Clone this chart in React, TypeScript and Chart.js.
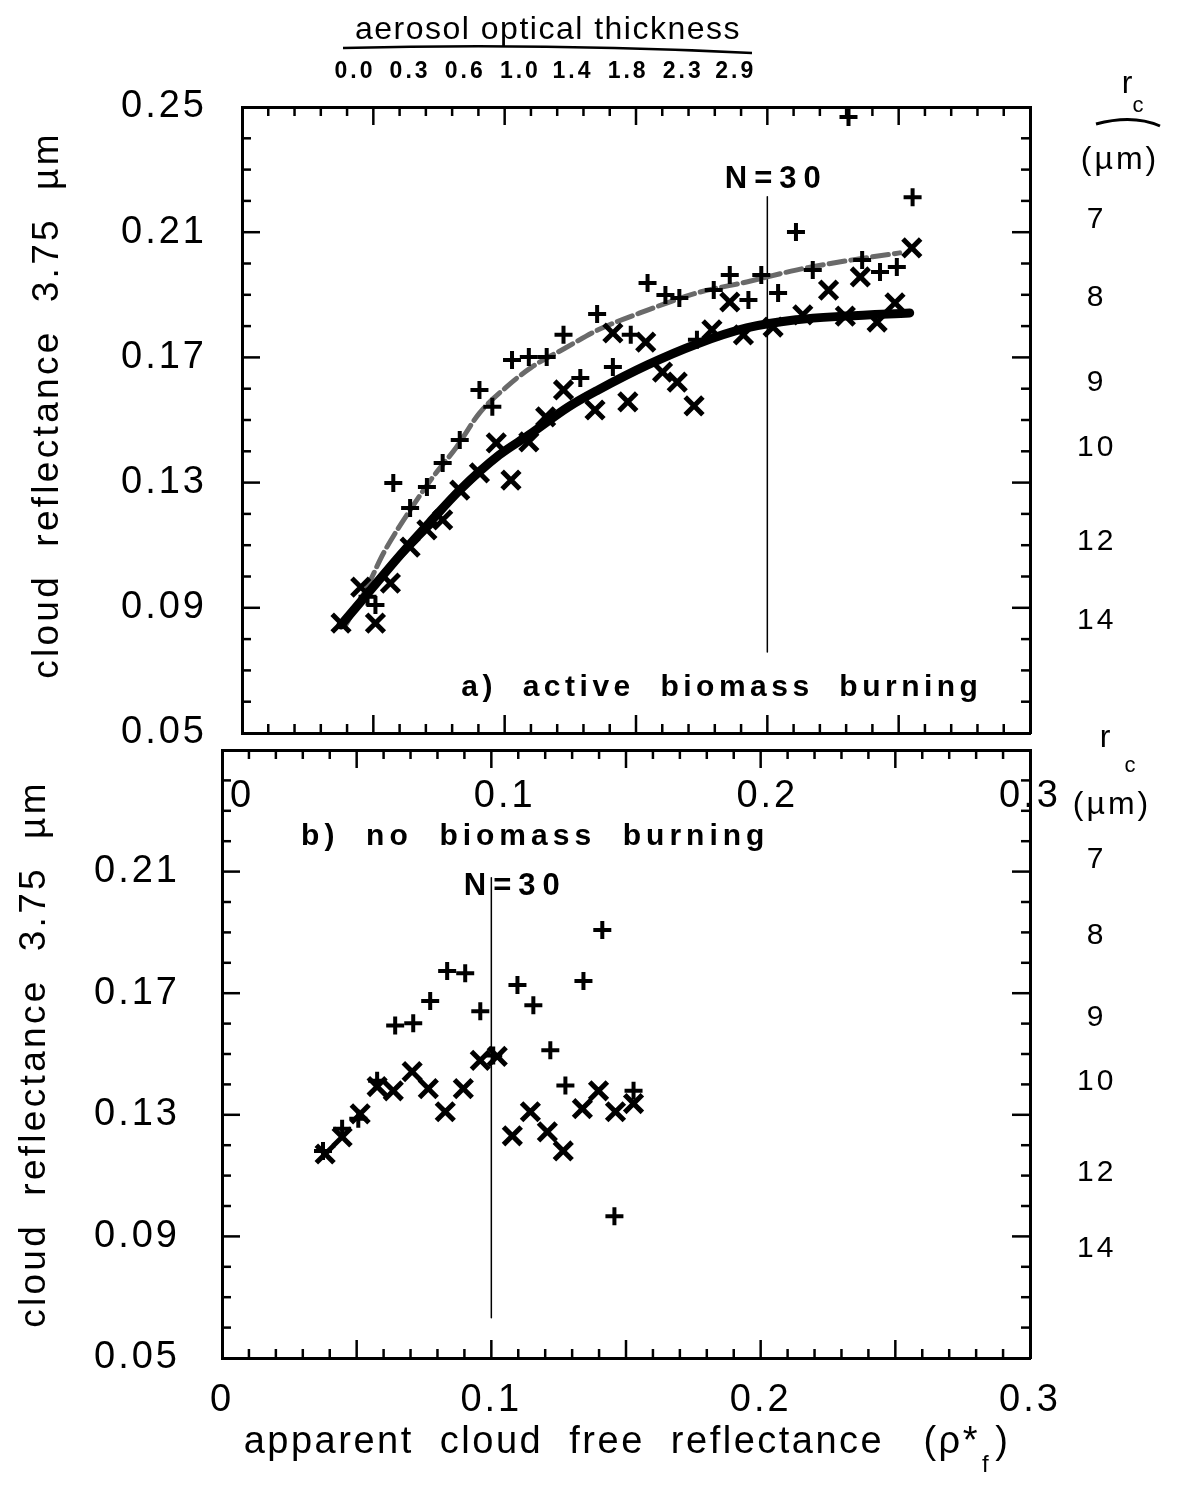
import React, { useEffect, useRef } from "react";
import { Chart, registerables } from "chart.js";

Chart.register(...registerables);

const W = 1181;
const H = 1489;
const FONT = "'Liberation Sans', Arial, Helvetica, sans-serif";

// ---------------- shared axis data ----------------
const xTickValues = [0, 0.1, 0.2, 0.3];
const xTickLabels = ["0", "0.1", "0.2", "0.3"];
const yTickValues = [0.05, 0.09, 0.13, 0.17, 0.21, 0.25];
const yTickLabels = ["0.05", "0.09", "0.13", "0.17", "0.21", "0.25"];
// panel b does not label its top (0.25) tick
const yTickValuesB = [0.05, 0.09, 0.13, 0.17, 0.21];
const yTickLabelsB = ["0.05", "0.09", "0.13", "0.17", "0.21"];
// cloud droplet radius r_c (µm) scale on the right, placed at reflectance values
const rcLabels = ["7", "8", "9", "10", "12", "14"];
const rcReflectance = [0.214, 0.189, 0.162, 0.141, 0.111, 0.086];
// aerosol optical thickness scale above panel a, placed at apparent reflectance values
const aotLabels = ["0.0", "0.3", "0.6", "1.0", "1.4", "1.8", "2.3", "2.9"];
const aotReflectance = [0.043, 0.064, 0.085, 0.106, 0.126, 0.147, 0.168, 0.188];

// ---------------- panel a: active biomass burning ----------------
const aPlusX = [0.0478, 0.0508, 0.0576, 0.064, 0.0704, 0.0764, 0.0829, 0.0904, 0.0953, 0.1028, 0.1092, 0.116, 0.1224, 0.1288, 0.1352, 0.1412, 0.148, 0.1544, 0.1612, 0.1665, 0.1732, 0.1796, 0.1857, 0.1928, 0.1977, 0.2041, 0.2109, 0.2173, 0.2309, 0.2361, 0.2429, 0.2493, 0.2553];
const aPlusY = [0.0935, 0.0909, 0.1299, 0.1219, 0.1286, 0.1363, 0.1436, 0.1596, 0.1542, 0.1692, 0.1701, 0.1701, 0.1772, 0.1634, 0.1839, 0.1669, 0.1772, 0.1938, 0.1899, 0.189, 0.1756, 0.1915, 0.1963, 0.1883, 0.1963, 0.1906, 0.2101, 0.1979, 0.2468, 0.2011, 0.1973, 0.1989, 0.2212];
const aCrossX = [0.0377, 0.0452, 0.0508, 0.0565, 0.064, 0.0704, 0.0764, 0.0829, 0.0904, 0.0968, 0.1024, 0.1092, 0.1156, 0.1224, 0.1344, 0.1412, 0.1469, 0.1537, 0.1601, 0.1657, 0.1721, 0.1789, 0.1857, 0.1909, 0.2022, 0.2135, 0.2233, 0.2297, 0.2354, 0.2418, 0.2486, 0.255];
const aCrossY = [0.0851, 0.0966, 0.0851, 0.0979, 0.1094, 0.1149, 0.1181, 0.1276, 0.1331, 0.1427, 0.1308, 0.143, 0.151, 0.1596, 0.1532, 0.1778, 0.1558, 0.1749, 0.1653, 0.1621, 0.1545, 0.1788, 0.1877, 0.1772, 0.1797, 0.1836, 0.1915, 0.1832, 0.1957, 0.1813, 0.1874, 0.205];
const aFitCrossX = [0.0377, 0.049, 0.0603, 0.0716, 0.0829, 0.0979, 0.1092, 0.1243, 0.1356, 0.1544, 0.1732, 0.1921, 0.2109, 0.2297, 0.2542];
const aFitCrossY = [0.0845, 0.0957, 0.1069, 0.1174, 0.1276, 0.1388, 0.1452, 0.1542, 0.1596, 0.1676, 0.1743, 0.1794, 0.182, 0.1832, 0.1842];
const aFitPlusX = [0.0395, 0.0471, 0.0539, 0.064, 0.0727, 0.0817, 0.0904, 0.1006, 0.1103, 0.1231, 0.1356, 0.1544, 0.1732, 0.1921, 0.2109, 0.2297, 0.2504];
const aFitPlusY = [0.0845, 0.0957, 0.1075, 0.1212, 0.1318, 0.1414, 0.1522, 0.1605, 0.1669, 0.173, 0.1788, 0.1851, 0.1906, 0.1941, 0.1979, 0.2008, 0.2034];
const aNLineX = [0.2, 0.2];
const aNLineY = [0.0759, 0.2213];

// ---------------- panel b: no biomass burning ----------------
const bPlusX = [0.0375, 0.0446, 0.0506, 0.0576, 0.0643, 0.071, 0.0773, 0.0836, 0.0903, 0.0959, 0.1007, 0.1097, 0.1156, 0.1219, 0.1275, 0.1342, 0.1412, 0.1457, 0.1528];
const bPlusY = [0.1181, 0.1254, 0.1287, 0.1412, 0.1594, 0.1601, 0.1674, 0.1773, 0.1766, 0.1641, 0.1495, 0.1727, 0.166, 0.1512, 0.1396, 0.174, 0.1908, 0.0966, 0.1379];
const bCrossX = [0.0383, 0.0446, 0.0513, 0.0576, 0.0636, 0.0706, 0.0766, 0.0829, 0.0896, 0.0959, 0.1022, 0.1078, 0.1145, 0.1208, 0.1267, 0.1338, 0.1398, 0.1461, 0.1528];
const bCrossY = [0.1171, 0.1227, 0.1303, 0.1393, 0.1379, 0.1442, 0.1386, 0.131, 0.1386, 0.1479, 0.1492, 0.1231, 0.131, 0.1244, 0.1181, 0.132, 0.1379, 0.131, 0.1337];
const bNLineX = [0.1, 0.1];
const bNLineY = [0.0632, 0.208];

// ---------------- texts ----------------
const yTitle = "cloud  reflectance  3.75  µm";
const xTitleMain = "apparent  cloud  free  reflectance   (ρ*";
const panelALabel = "a)  active  biomass  burning";
const panelBLabel = "b)  no  biomass  burning";
const nLabel = "N=30";
const aotTitle = "aerosol optical thickness";

type Area = { left: number; right: number; top: number; bottom: number };
type DataText = { text: string; x: number; y: number; font: string; spacing: number };

const pts = (xs: number[], ys: number[]) => xs.map((x, i) => ({ x, y: ys[i] }));

function markerSet(xs: number[], ys: number[], style: string, r: number, w: number) {
  return {
    data: pts(xs, ys),
    showLine: false,
    pointStyle: style,
    pointRadius: r,
    pointHoverRadius: r,
    pointBorderWidth: w,
    pointBorderColor: "#000",
    pointBackgroundColor: "#000",
    borderColor: "#000",
    borderWidth: w,
  };
}

function curveSet(xs: number[], ys: number[], w: number, color: string, dash: number[] = []) {
  return {
    data: pts(xs, ys),
    showLine: true,
    pointRadius: 0,
    pointHoverRadius: 0,
    borderWidth: w,
    borderColor: color,
    borderDash: dash,
    borderCapStyle: "round",
    cubicInterpolationMode: "monotone",
    fill: false,
  };
}

function txt(ctx: any, text: string, x: number, y: number, font: string, spacing = 0, align: CanvasTextAlign = "center") {
  ctx.save();
  ctx.font = font;
  ctx.fillStyle = "#000";
  ctx.textAlign = align;
  ctx.textBaseline = "middle";
  ctx.letterSpacing = spacing + "px";
  ctx.fillText(text, x, y);
  ctx.restore();
}

interface PanelSpec {
  key: string;
  area: Area;
  datasets: any[];
  yTicks: number[];
  yLabels: string[];
  xTickPadding: number;
  yTickPadding: number;
  aot: boolean;
  yTitleX: number;
  yTitleShift: number;
  dataTexts: DataText[];
  decorate: (ctx: any, chart: any) => void;
}

function decorPlugin(spec: PanelSpec) {
  return {
    id: "decor_" + spec.key,
    beforeDraw(chart: any) {
      chart.ctx.letterSpacing = "3px";
    },
    afterDraw(chart: any) {
      const ctx = chart.ctx;
      const xs = chart.scales.x;
      const ys = chart.scales.y;
      const { left, right, top, bottom } = chart.chartArea;
      ctx.save();
      ctx.letterSpacing = "0px";
      ctx.strokeStyle = "#000";
      ctx.lineWidth = 2.5;
      const line = (x1: number, y1: number, x2: number, y2: number) => {
        ctx.beginPath();
        ctx.moveTo(x1, y1);
        ctx.lineTo(x2, y2);
        ctx.stroke();
      };
      // inward ticks, every 0.01
      for (let k = 1; k < 30; k++) {
        const px = xs.getPixelForValue(k / 100);
        const len = k % 5 === 0 ? 18 : 9;
        line(px, bottom, px, bottom - len);
        line(px, top, px, top + len);
      }
      for (let k = 6; k < 25; k++) {
        const py = ys.getPixelForValue(k / 100);
        const len = (k - 5) % 4 === 0 ? 18 : 9;
        line(left, py, left + len, py);
        line(right, py, right - len, py);
      }
      ctx.restore();

      // y title (rotated)
      ctx.save();
      ctx.translate(spec.yTitleX, (top + bottom) / 2 + spec.yTitleShift);
      ctx.rotate(-Math.PI / 2);
      txt(ctx, yTitle, 0, 0, `37px ${FONT}`, 3.3);
      ctx.restore();

      // texts placed in data coordinates
      for (const t of spec.dataTexts) {
        txt(ctx, t.text, xs.getPixelForValue(t.x), ys.getPixelForValue(t.y), t.font, t.spacing);
      }
      spec.decorate(ctx, chart);
    },
  };
}

function buildConfig(spec: PanelSpec) {
  const { area } = spec;
  const f = (size: number, weight: any = "normal") => ({ family: FONT, size, weight });
  return {
    type: "scatter",
    data: { datasets: spec.datasets },
    options: {
      animation: false,
      responsive: false,
      maintainAspectRatio: false,
      devicePixelRatio: 1,
      events: [],
      layout: { padding: 0 },
      plugins: { legend: { display: false }, tooltip: { enabled: false }, title: { display: false } },
      scales: {
        x: {
          type: "linear",
          axis: "x",
          position: "bottom",
          min: 0,
          max: 0.3,
          grid: { display: false },
          border: { display: true, color: "#000", width: 3 },
          afterBuildTicks: (s: any) => {
            s.ticks = xTickValues.map((v) => ({ value: v }));
          },
          ticks: {
            autoSkip: false,
            maxRotation: 0,
            padding: spec.xTickPadding,
            color: "#000",
            font: f(38),
            callback: (_v: any, i: number) => xTickLabels[i],
          },
          afterFit: (s: any) => {
            s.height = H - area.bottom;
          },
        },
        x2: {
          type: "linear",
          axis: "x",
          position: "top",
          min: 0,
          max: 0.3,
          grid: { display: false },
          border: { display: true, color: "#000", width: 3 },
          afterBuildTicks: (s: any) => {
            s.ticks = spec.aot ? aotReflectance.map((v) => ({ value: v })) : [];
          },
          ticks: {
            display: spec.aot,
            autoSkip: false,
            maxRotation: 0,
            padding: 14,
            color: "#000",
            font: f(23, "bold"),
            callback: (_v: any, i: number) => aotLabels[i],
          },
          afterFit: (s: any) => {
            s.height = area.top;
          },
        },
        y: {
          type: "linear",
          axis: "y",
          position: "left",
          min: 0.05,
          max: 0.25,
          grid: { display: false },
          border: { display: true, color: "#000", width: 3 },
          afterBuildTicks: (s: any) => {
            s.ticks = spec.yTicks.map((v) => ({ value: v }));
          },
          ticks: {
            autoSkip: false,
            padding: spec.yTickPadding,
            color: "#000",
            font: f(38),
            callback: (_v: any, i: number) => spec.yLabels[i],
          },
          afterFit: (s: any) => {
            s.width = area.left;
          },
        },
        y2: {
          type: "linear",
          axis: "y",
          position: "right",
          min: 0.05,
          max: 0.25,
          grid: { display: false },
          border: { display: true, color: "#000", width: 3 },
          afterBuildTicks: (s: any) => {
            s.ticks = rcReflectance.map((v) => ({ value: v }));
          },
          ticks: {
            autoSkip: false,
            padding: 42,
            crossAlign: "center",
            color: "#000",
            font: f(30),
            callback: (_v: any, i: number) => rcLabels[i],
          },
          afterFit: (s: any) => {
            s.width = W - area.right;
          },
        },
      },
    },
    plugins: [decorPlugin(spec)],
  } as any;
}

function drawRc(ctx: any, rx: number, ry: number, cx: number, cy: number, mx: number, my: number, curve: boolean) {
  txt(ctx, "r", rx, ry, `32px ${FONT}`, 0);
  txt(ctx, "c", cx, cy, `22px ${FONT}`, 0);
  if (curve) {
    ctx.save();
    ctx.strokeStyle = "#000";
    ctx.lineWidth = 3;
    ctx.beginPath();
    ctx.moveTo(cx - 42, cy + 18);
    ctx.quadraticCurveTo(cx - 5, cy + 8, cx + 22, cy + 20);
    ctx.stroke();
    ctx.restore();
  }
  txt(ctx, "(µm)", mx, my, `32px ${FONT}`, 3);
}

const panelA: PanelSpec = {
  key: "a",
  area: { left: 242, right: 1030, top: 107, bottom: 733 },
  datasets: [
    markerSet(aPlusX, aPlusY, "cross", 9, 4),
    markerSet(aCrossX, aCrossY, "crossRot", 12.5, 5),
    curveSet(aFitCrossX, aFitCrossY, 9, "#000"),
    curveSet(aFitPlusX, aFitPlusY, 5, "#6a6a6a", [16, 6]),
    curveSet(aNLineX, aNLineY, 1.5, "#000"),
  ],
  yTicks: yTickValues,
  yLabels: yTickLabels,
  xTickPadding: 33,
  yTickPadding: 27,
  aot: true,
  yTitleX: 48,
  yTitleShift: -15,
  dataTexts: [
    { text: nLabel, x: 0.2034, y: 0.2267, font: `bold 31px ${FONT}`, spacing: 7 },
    { text: panelALabel, x: 0.1827, y: 0.0644, font: `bold 30px ${FONT}`, spacing: 4.5 },
  ],
  decorate: (ctx) => {
    txt(ctx, aotTitle, 548, 30, `32px ${FONT}`, 1.5);
    ctx.save();
    ctx.strokeStyle = "#000";
    ctx.lineWidth = 2.5;
    ctx.beginPath();
    ctx.moveTo(343, 48);
    ctx.quadraticCurveTo(545, 43, 752, 53);
    ctx.stroke();
    ctx.restore();
    drawRc(ctx, 1127, 84, 1138, 106, 1120, 160, true);
  },
};

const panelB: PanelSpec = {
  key: "b",
  area: { left: 222, right: 1030, top: 750, bottom: 1358 },
  datasets: [
    markerSet(bPlusX, bPlusY, "cross", 9, 4),
    markerSet(bCrossX, bCrossY, "crossRot", 12.5, 5),
    curveSet(bNLineX, bNLineY, 1.5, "#000"),
  ],
  yTicks: yTickValuesB,
  yLabels: yTickLabelsB,
  xTickPadding: 12,
  yTickPadding: 34,
  aot: false,
  yTitleX: 35,
  yTitleShift: 0,
  dataTexts: [
    { text: nLabel, x: 0.1089, y: 0.205, font: `bold 31px ${FONT}`, spacing: 7 },
    { text: panelBLabel, x: 0.1163, y: 0.2216, font: `bold 30px ${FONT}`, spacing: 5 },
  ],
  decorate: (ctx) => {
    drawRc(ctx, 1105, 738, 1130, 766, 1112, 805, false);
    // x axis title with subscript f
    ctx.save();
    ctx.letterSpacing = "2.5px";
    ctx.font = `38px ${FONT}`;
    const w1 = ctx.measureText(xTitleMain).width;
    ctx.font = `24px ${FONT}`;
    const wf = ctx.measureText("f").width;
    ctx.font = `38px ${FONT}`;
    const w3 = ctx.measureText(")").width;
    const total = w1 + wf + 6 + w3;
    const x0 = 627 - total / 2;
    ctx.fillStyle = "#000";
    ctx.textAlign = "left";
    ctx.textBaseline = "alphabetic";
    ctx.fillText(xTitleMain, x0, 1453);
    ctx.font = `24px ${FONT}`;
    ctx.fillText("f", x0 + w1 + 2, 1472);
    ctx.font = `38px ${FONT}`;
    ctx.fillText(")", x0 + w1 + wf + 6, 1453);
    ctx.restore();
  },
};

function Panel({ spec }: { spec: PanelSpec }) {
  const ref = useRef<HTMLCanvasElement>(null);
  useEffect(() => {
    const chart = new Chart(ref.current as HTMLCanvasElement, buildConfig(spec));
    return () => chart.destroy();
  }, [spec]);
  return (
    <canvas
      ref={ref}
      width={W}
      height={H}
      style={{ position: "absolute", left: 0, top: 0, width: W, height: H }}
    />
  );
}

export default function App() {
  return (
    <div style={{ position: "absolute", left: 0, top: 0, width: W, height: H, background: "#fff" }}>
      <Panel spec={panelA} />
      <Panel spec={panelB} />
    </div>
  );
}
